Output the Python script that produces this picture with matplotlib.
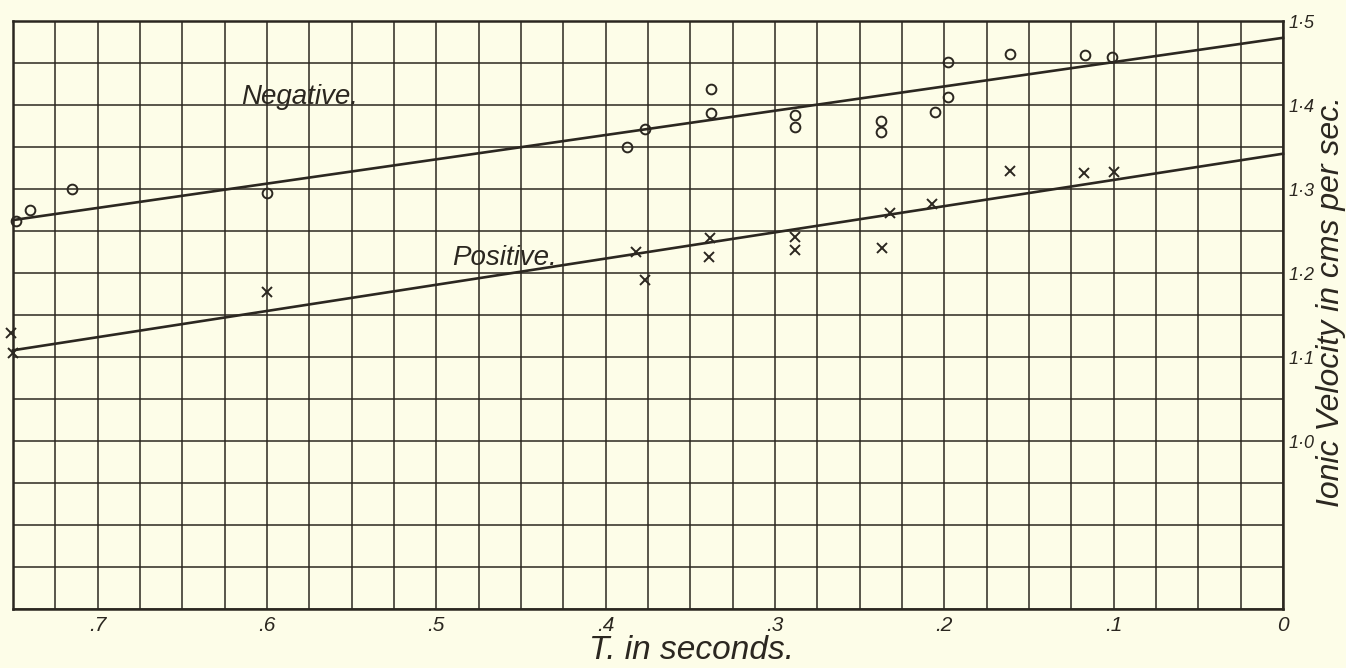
import numpy as np
import matplotlib
matplotlib.use("Agg")
import matplotlib.pyplot as plt

# time T in seconds (axis runs from .75 on the left down to 0 on the right)
neg_T = [0.748, 0.740, 0.715, 0.600, 0.3875, 0.377, 0.338, 0.338, 0.288, 0.288,
         0.2375, 0.2375, 0.2055, 0.198, 0.198, 0.161, 0.117, 0.101]
neg_v = [1.262, 1.275, 1.300, 1.295, 1.350, 1.371, 1.419, 1.390, 1.388, 1.374,
         1.381, 1.368, 1.392, 1.410, 1.451, 1.461, 1.460, 1.457]

pos_T = [0.751, 0.750, 0.600, 0.382, 0.377, 0.3385, 0.339, 0.288, 0.288,
         0.237, 0.232, 0.207, 0.161, 0.1175, 0.100]
pos_v = [1.129, 1.105, 1.177, 1.225, 1.192, 1.242, 1.219, 1.243, 1.227,
         1.230, 1.271, 1.282, 1.321, 1.319, 1.320]

# straight lines drawn through each set
fit_T = [0.75, 0.0]
neg_fit = [1.263, 1.480]
pos_fit = [1.108, 1.342]

x_ticks = [0.7, 0.6, 0.5, 0.4, 0.3, 0.2, 0.1, 0.0]
x_labels = [".7", ".6", ".5", ".4", ".3", ".2", ".1", "0"]
y_ticks = [1.0, 1.1, 1.2, 1.3, 1.4, 1.5]
y_labels = ["1·0", "1·1", "1·2", "1·3", "1·4", "1·5"]


def main():
    ink = "#2b2720"
    paper = "#fdfde8"
    plt.rcParams["font.family"] = ["Liberation Sans", "DejaVu Sans"]
    plt.rcParams["font.style"] = "italic"

    fig = plt.figure(figsize=(13.46, 6.68), dpi=100, facecolor=paper)
    ax = fig.add_axes([13 / 1346, 1 - 609 / 668, 1270 / 1346, 588 / 668])
    ax.set_facecolor(paper)

    # squared paper: .025 s across, .05 cms/sec up
    ax.set_xlim(0.75, 0.0)
    ax.set_ylim(0.8, 1.5)
    ax.set_xticks(np.arange(0, 0.751, 0.025), minor=True)
    ax.set_yticks(np.arange(0.8, 1.501, 0.05), minor=True)
    ax.grid(True, which="both", color=ink, lw=1.1)
    ax.set_axisbelow(True)

    ax.set_xticks(x_ticks)
    ax.set_xticklabels(x_labels, fontsize=15)
    ax.yaxis.tick_right()
    ax.set_yticks(y_ticks)
    ax.set_yticklabels(y_labels, fontsize=13)
    ax.tick_params(which="both", length=0, colors=ink)
    ax.tick_params(axis="x", pad=5)
    ax.tick_params(axis="y", pad=4)
    for s in ax.spines.values():
        s.set_color(ink)
        s.set_linewidth(1.8)

    # fitted lines and observations
    ax.plot(fit_T, neg_fit, color=ink, lw=1.9, clip_on=False)
    ax.plot(fit_T, pos_fit, color=ink, lw=1.9, clip_on=False)
    ax.plot(neg_T, neg_v, "o", ms=7, mfc="none", mec=ink, mew=1.4, clip_on=False)
    ax.plot(pos_T, pos_v, "x", ms=7, mec=ink, mew=1.4, clip_on=False)

    ax.text(0.581, 1.410, "Negative.", fontsize=20, color=ink, ha="center", va="center")
    ax.text(0.4595, 1.218, "Positive.", fontsize=20, color=ink, ha="center", va="center")

    fig.text(692 / 1346, 1 - 666 / 668, "T. in seconds.", fontsize=24, color=ink,
             ha="center", va="bottom")
    fig.text(1331 / 1346, 1 - 301 / 668, "Ionic Velocity in cms per sec.", fontsize=23,
             color=ink, rotation=90, ha="center", va="center")

    fig.savefig("out.png", dpi=100, facecolor=paper)


main()
